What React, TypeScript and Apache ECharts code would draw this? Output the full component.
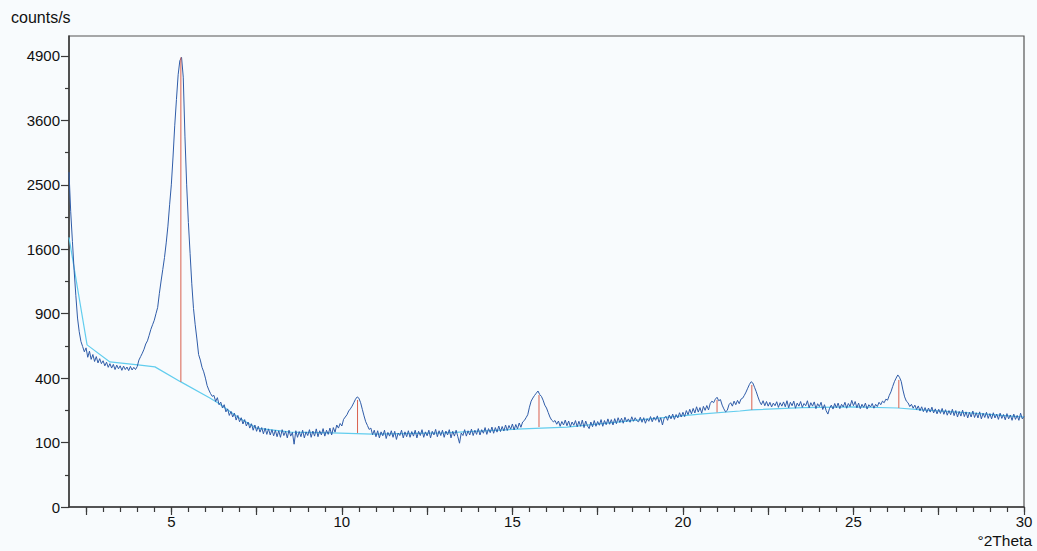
import React, { useEffect, useRef } from "react";
import * as echarts from "echarts";

// Measured intensity (counts/s), sampled every 0.05 °2Theta starting at 2.00
const X_START = 2;
const X_STEP = 0.05;
const deg02 = [2700, 2100, 1700, 1350, 1080, 860, 740, 660, 620, 580, 610, 540, 585, 525, 560, 510, 545, 500, 530, 495];
const deg03 = [515, 480, 505, 470, 495, 465, 490, 455, 485, 460, 480, 450, 478, 455, 472, 448, 476, 452, 470, 455];
const deg04 = [475, 520, 545, 570, 600, 640, 665, 710, 760, 800, 840, 900, 960, 1100, 1230, 1360, 1500, 1680, 1900, 2200];
const deg05 = [2500, 2950, 3500, 4000, 4500, 4800, 4870, 4450, 3300, 2500, 1950, 1550, 1200, 950, 800, 680, 560, 520, 470, 440];
const deg06 = [400, 355, 330, 310, 295, 300, 268, 288, 252, 265, 236, 252, 218, 232, 202, 220, 195, 212, 182, 202];
const deg07 = [175, 192, 166, 184, 158, 174, 150, 167, 142, 162, 138, 157, 135, 152, 129, 150, 127, 147, 125, 144];
const deg08 = [122, 142, 119, 140, 117, 144, 123, 138, 115, 142, 121, 134, 95, 140, 117, 137, 119, 142, 115, 136];
const deg09 = [123, 144, 117, 139, 121, 147, 119, 140, 125, 148, 121, 142, 127, 150, 125, 152, 135, 162, 150, 168];
const deg10 = [158, 185, 195, 205, 222, 232, 245, 262, 280, 292, 285, 262, 230, 200, 175, 160, 145, 150, 126, 142];
const deg11 = [119, 140, 115, 136, 122, 142, 113, 134, 121, 140, 117, 138, 110, 132, 123, 142, 115, 136, 119, 140];
const deg12 = [117, 137, 121, 142, 115, 138, 123, 144, 117, 136, 122, 142, 115, 138, 125, 145, 119, 140, 123, 142];
const deg13 = [117, 139, 125, 144, 115, 138, 121, 142, 119, 98, 132, 123, 144, 121, 140, 125, 146, 123, 142, 127];
const deg14 = [148, 125, 144, 131, 152, 127, 148, 133, 154, 131, 152, 135, 158, 137, 156, 139, 162, 141, 160, 146];
const deg15 = [166, 143, 164, 147, 170, 153, 174, 180, 192, 205, 240, 270, 286, 300, 312, 324, 305, 295, 275, 250];
const deg16 = [236, 215, 195, 182, 175, 180, 165, 178, 157, 176, 162, 182, 159, 178, 155, 174, 161, 180, 155, 177];
const deg17 = [157, 182, 152, 178, 159, 148, 174, 155, 180, 157, 176, 161, 184, 157, 180, 163, 187, 165, 184, 162];
const deg18 = [188, 167, 192, 172, 190, 169, 194, 175, 187, 173, 196, 177, 192, 179, 175, 194, 173, 192, 169, 188];
const deg19 = [177, 197, 175, 194, 181, 200, 173, 192, 162, 190, 198, 181, 204, 187, 208, 185, 206, 191, 214, 195];
const deg20 = [216, 197, 224, 205, 230, 209, 234, 213, 242, 217, 238, 212, 244, 225, 248, 227, 258, 270, 262, 280];
const deg21 = [290, 272, 278, 250, 232, 218, 225, 252, 262, 245, 270, 252, 274, 257, 280, 285, 300, 318, 340, 362];
const deg22 = [378, 370, 345, 320, 292, 268, 252, 272, 247, 268, 245, 264, 241, 260, 247, 267, 239, 262, 245, 266];
const deg23 = [242, 272, 237, 264, 247, 270, 235, 260, 245, 268, 239, 258, 247, 272, 237, 262, 245, 266, 233, 257];
const deg24 = [243, 264, 229, 252, 223, 208, 235, 250, 231, 258, 237, 260, 233, 254, 241, 264, 235, 258, 243, 274];
const deg25 = [247, 268, 237, 260, 233, 254, 239, 260, 231, 252, 241, 258, 235, 254, 243, 264, 252, 270, 262, 280];
const deg26 = [275, 300, 320, 350, 378, 400, 420, 405, 380, 330, 292, 270, 262, 243, 254, 235, 250, 229, 246, 223];
const deg27 = [242, 219, 238, 215, 236, 217, 240, 213, 232, 209, 230, 211, 234, 207, 228, 203, 224, 205, 230, 201];
const deg28 = [224, 195, 220, 199, 226, 197, 218, 191, 216, 195, 222, 193, 214, 191, 218, 187, 212, 193, 216, 189];
const deg29 = [210, 187, 214, 191, 208, 185, 212, 189, 206, 183, 210, 187, 204, 181, 208, 185, 202, 181, 212, 187];
const deg30 = [198];

// Background line
const bgTheta = [2.0, 2.53, 3.2, 4.02, 4.52, 5.28, 6.13, 6.37, 7.0, 7.5, 8.5, 9.7, 10.9, 13.0, 15.3, 16.6, 18.5, 20.5, 21.67, 22.0, 23.5, 25.0, 26.3, 27.0, 28.5, 30.0];
const bgCounts = [1750, 633, 507, 486, 473, 377, 286, 260, 190, 150, 135, 132, 128, 132, 147, 154, 180, 208, 222, 227, 238, 241, 236, 227, 212, 195];

// Peak markers
const peakTheta = [5.28, 10.46, 15.78, 21.0, 22.02, 26.33];
const peakBase = [377, 132, 154, 216, 227, 236];
const peakTop = [4870, 276, 302, 276, 359, 389];

// Axis ticks (sqrt-scaled y axis)
const yMajorSqrt = [0, 10, 20, 30, 40, 50, 60, 70];
const yMinorSqrt = [5, 15, 25, 35, 45, 55, 65];
const xLabelValues = [5, 10, 15, 20, 25, 30];

const X_MIN = 2;
const X_MAX = 30;
const Y_MAX_SQRT = 73.1;

export default function App() {
  const ref = useRef<HTMLDivElement>(null);

  useEffect(() => {
    if (!ref.current) return;
    const chart = echarts.init(ref.current, undefined, { renderer: "svg" });

    const counts = [
      ...deg02, ...deg03, ...deg04, ...deg05, ...deg06, ...deg07, ...deg08, ...deg09,
      ...deg10, ...deg11, ...deg12, ...deg13, ...deg14, ...deg15, ...deg16, ...deg17,
      ...deg18, ...deg19, ...deg20, ...deg21, ...deg22, ...deg23, ...deg24, ...deg25,
      ...deg26, ...deg27, ...deg28, ...deg29, ...deg30,
    ];
    const blueData = counts.map((c, i) => [
      Math.round((X_START + i * X_STEP) * 1000) / 1000,
      Math.sqrt(c),
    ]);
    const bgData = bgTheta.map((t, i) => [t, Math.sqrt(bgCounts[i])]);
    const stickData = peakTheta.map((t, i) => [t, Math.sqrt(peakBase[i]), Math.sqrt(peakTop[i])]);

    const xMajor: number[] = [];
    for (let v = 2.5; v <= X_MAX + 1e-9; v += 2.5) xMajor.push(Math.round(v * 10) / 10);
    const xMinor: number[] = [];
    for (let v = 2.5; v <= X_MAX + 1e-9; v += 0.5) xMinor.push(Math.round(v * 10) / 10);

    const font = "Liberation Sans, Arial, sans-serif";
    const axisColor = "#3a3a3a";

    chart.setOption({
      animation: false,
      backgroundColor: "#f8fbfd",
      grid: {
        left: 69,
        right: 13,
        top: 36,
        bottom: 44,
        show: true,
        borderColor: "#555",
        borderWidth: 1.2,
        backgroundColor: "transparent",
      },
      xAxis: [
        {
          type: "value",
          min: X_MIN,
          max: X_MAX,
          axisLine: { show: true, onZero: false, lineStyle: { color: axisColor, width: 1.5 } },
          axisTick: { show: true, length: 8, customValues: xMajor, lineStyle: { color: axisColor, width: 1.2 } },
          axisLabel: {
            show: true,
            customValues: xLabelValues,
            color: "#111",
            fontSize: 15,
            fontFamily: font,
            margin: 7,
          },
          splitLine: { show: false },
        },
        {
          type: "value",
          min: X_MIN,
          max: X_MAX,
          position: "bottom",
          axisLine: { show: false, onZero: false },
          axisTick: { show: true, length: 5, customValues: xMinor, lineStyle: { color: axisColor, width: 1.2 } },
          axisLabel: { show: false },
          splitLine: { show: false },
        },
      ],
      yAxis: [
        {
          type: "value",
          min: 0,
          max: Y_MAX_SQRT,
          axisLine: { show: true, onZero: false, lineStyle: { color: axisColor, width: 1.5 } },
          axisTick: { show: true, length: 8, customValues: yMajorSqrt, lineStyle: { color: axisColor, width: 1.2 } },
          axisLabel: {
            show: true,
            customValues: yMajorSqrt,
            formatter: (v: number) => String(Math.round(v * v)),
            color: "#111",
            fontSize: 15,
            fontFamily: font,
            margin: 9,
          },
          splitLine: { show: false },
        },
        {
          type: "value",
          min: 0,
          max: Y_MAX_SQRT,
          position: "left",
          axisLine: { show: false, onZero: false },
          axisTick: { show: true, length: 4, customValues: yMinorSqrt, lineStyle: { color: axisColor, width: 1.2 } },
          axisLabel: { show: false },
          splitLine: { show: false },
        },
      ],
      graphic: [
        {
          type: "text",
          left: 11,
          top: 9,
          style: { text: "counts/s", fontSize: 16, fontFamily: font, fill: "#111" },
        },
        {
          type: "text",
          right: 5,
          top: 532,
          style: { text: "°2Theta", fontSize: 15.5, fontFamily: font, fill: "#111" },
        },
      ],
      series: [
        {
          name: "background",
          type: "line",
          xAxisIndex: 0,
          yAxisIndex: 0,
          data: bgData,
          showSymbol: false,
          symbol: "none",
          lineStyle: { color: "#62cdee", width: 1.2 },
          z: 2,
        },
        {
          name: "intensity",
          type: "line",
          xAxisIndex: 0,
          yAxisIndex: 0,
          data: blueData,
          showSymbol: false,
          symbol: "none",
          lineStyle: { color: "#2f5ca8", width: 1 },
          z: 3,
        },
        {
          name: "peaks",
          type: "custom",
          xAxisIndex: 0,
          yAxisIndex: 0,
          data: stickData,
          encode: { x: 0, y: [1, 2] },
          z: 4,
          renderItem: (_params: any, api: any) => {
            const x = api.value(0);
            const p1 = api.coord([x, api.value(1)]);
            const p2 = api.coord([x, api.value(2)]);
            return {
              type: "line",
              shape: { x1: p1[0], y1: p1[1], x2: p2[0], y2: p2[1] },
              style: { stroke: "#d9604e", lineWidth: 1 },
            };
          },
        },
      ],
    });

    return () => chart.dispose();
  }, []);

  return (
    <div
      ref={ref}
      style={{ position: "fixed", left: 0, top: 0, width: 1037, height: 551 }}
    />
  );
}
